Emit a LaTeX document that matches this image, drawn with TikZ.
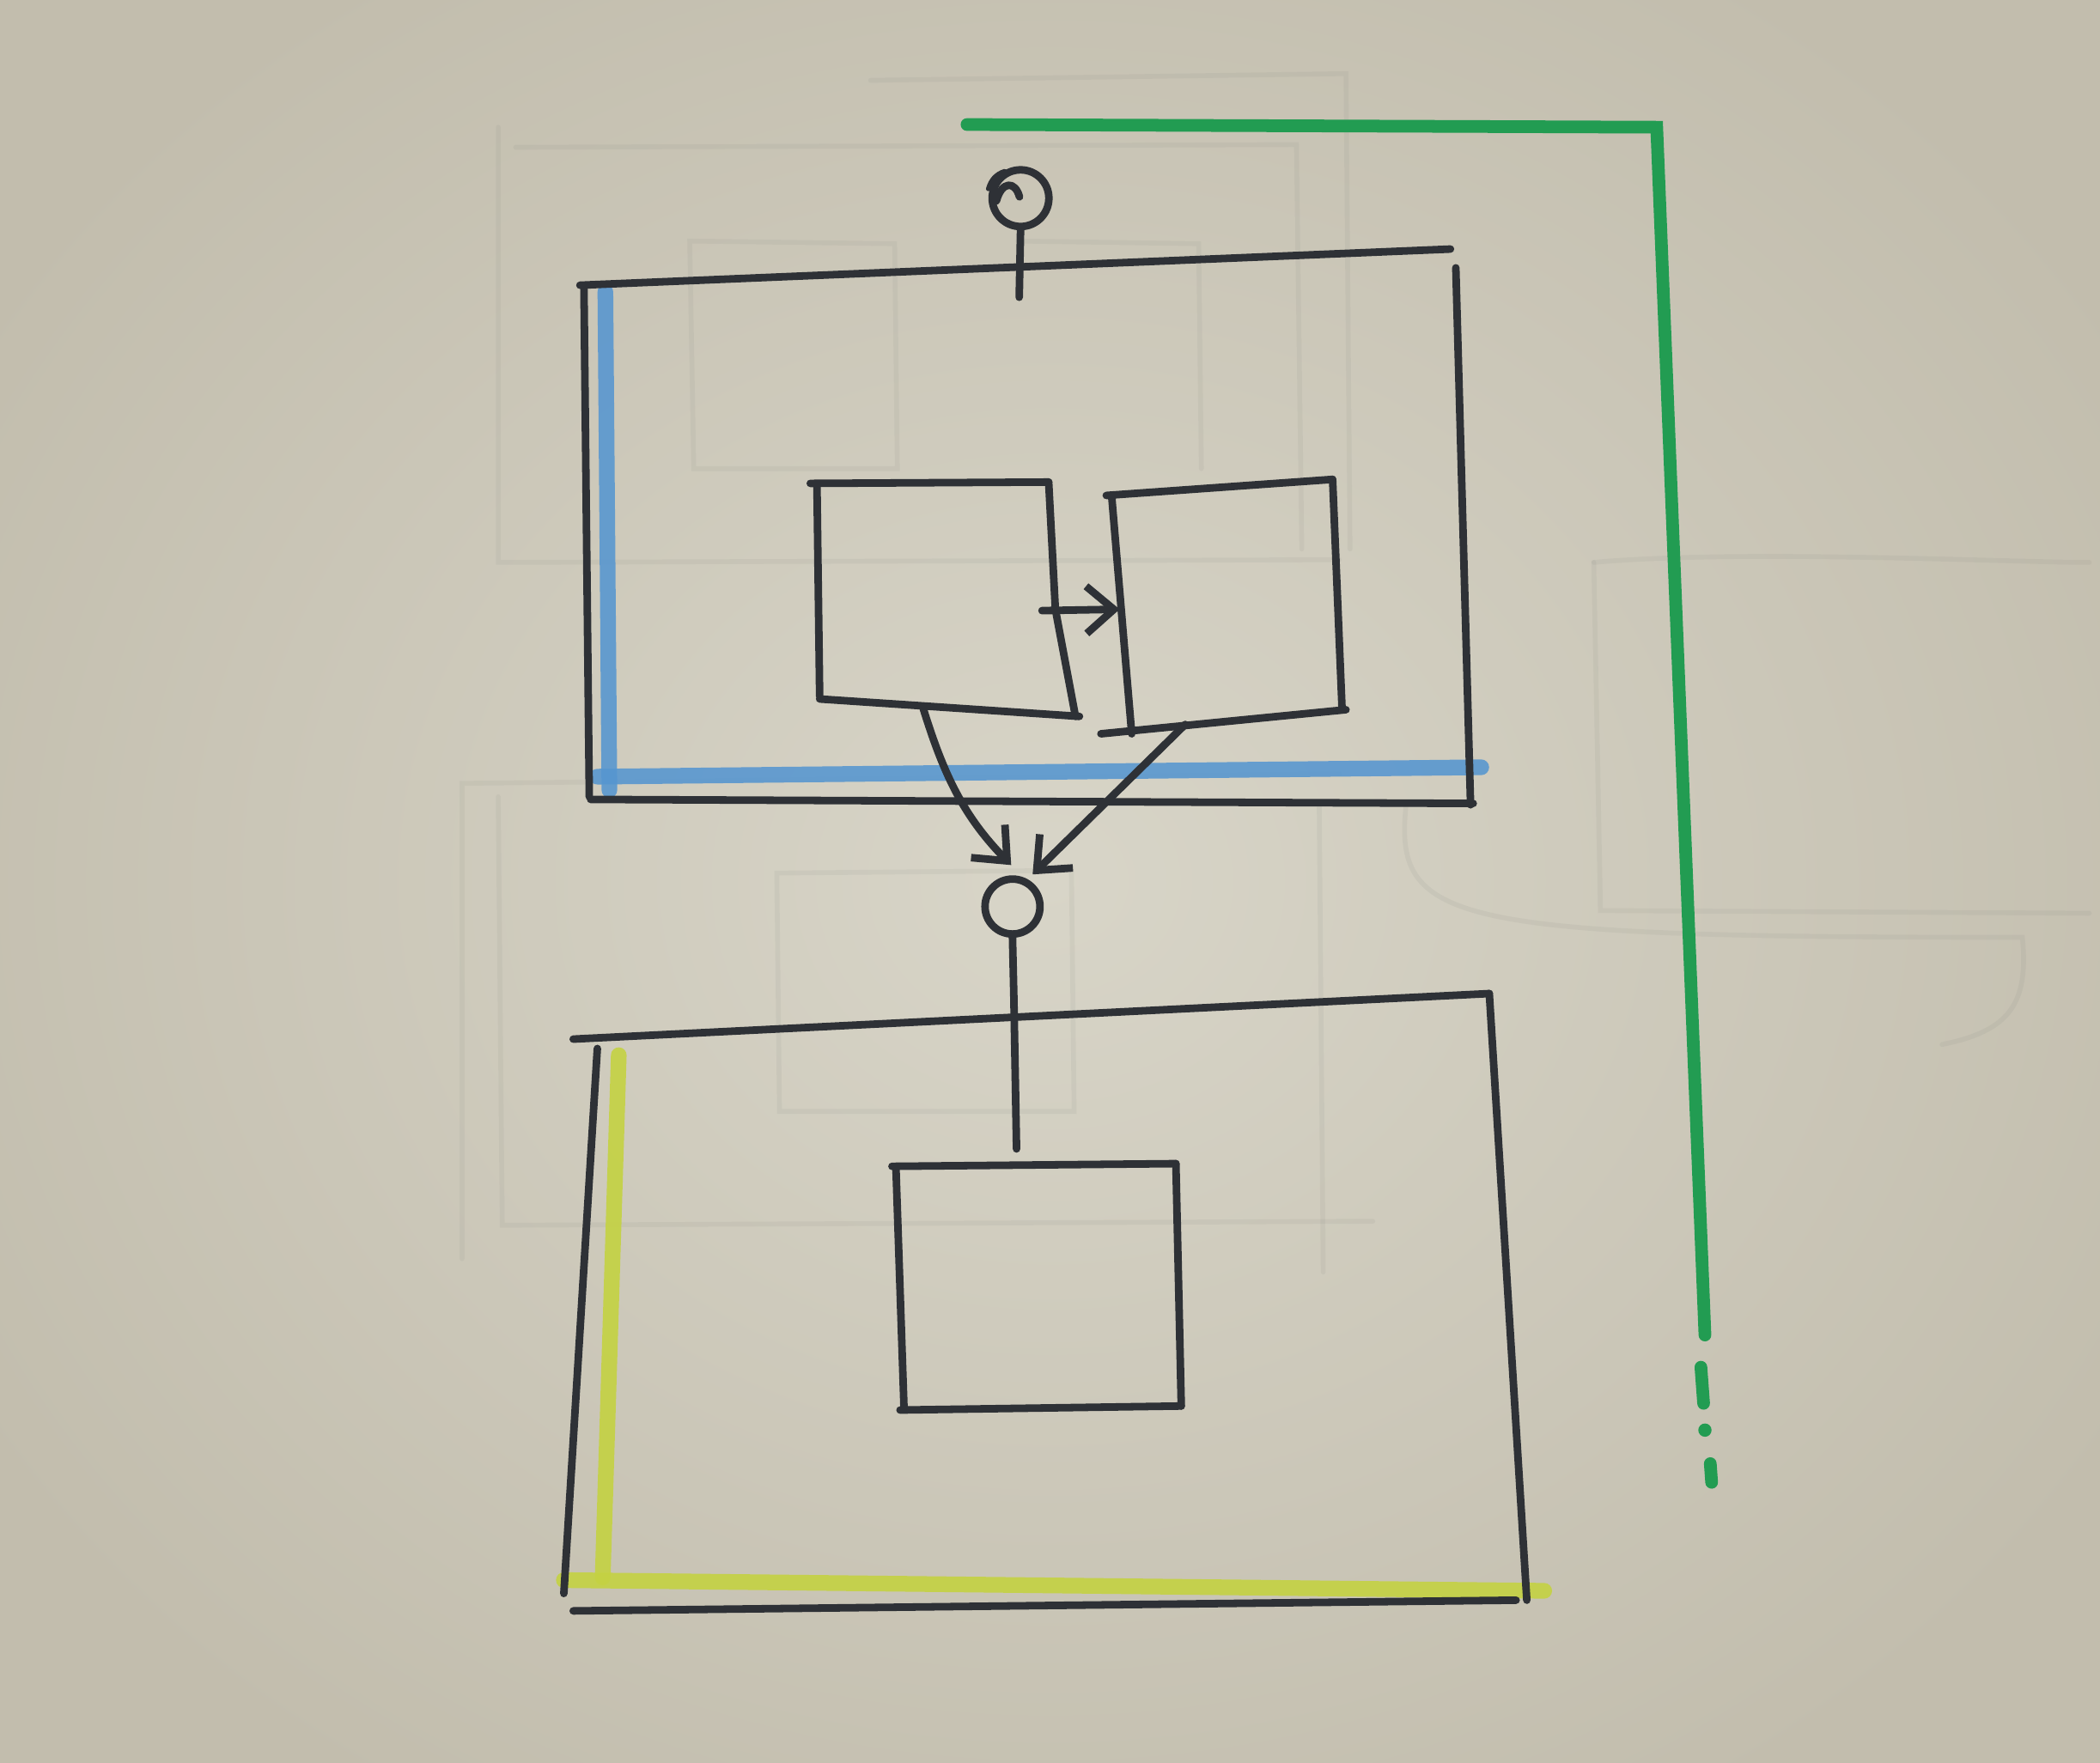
\documentclass[tikz,border=0pt]{standalone}
\usetikzlibrary{arrows.meta}
\definecolor{paperA}{RGB}{216,213,200}
\definecolor{paperB}{RGB}{194,189,173}
\definecolor{ink}{RGB}{46,49,54}
\definecolor{bluemark}{RGB}{86,150,208}
\definecolor{yellowmark}{RGB}{196,210,66}
\definecolor{greenmark}{RGB}{34,156,82}
\definecolor{ghost}{RGB}{120,125,120}
\begin{document}
\begin{tikzpicture}[x=0.015593cm,y=-0.015593cm,
  pen/.style={draw=ink,line width=2.5pt,line cap=round,line join=round},
  bluepen/.style={draw=bluemark,line width=5.2pt,line cap=round,opacity=0.88},
  yellowpen/.style={draw=yellowmark,line width=5.2pt,line cap=round,opacity=0.9},
  greenpen/.style={draw=greenmark,line width=4.2pt,line cap=round},
  ghostpen/.style={draw=ghost,line width=1.6pt,line cap=round,opacity=0.09},
  circ/.style={circle,pen,inner sep=0pt},
  tip/.style={-{Straight Barb[length=3.2mm,width=5.5mm,line width=2.5pt]}}
]
\useasboundingbox (0,0) rectangle (1568,1316);
\begin{scope}
\clip (0,0) rectangle (1568,1316);
\shade[inner color=paperA,outer color=paperB] (-150,-150) rectangle (1718,1466);
\end{scope}

% faint show-through from the back of the sheet
\draw[ghostpen] (372,95) -- (372,420) -- (1000,418);
\draw[ghostpen] (385,110) -- (968,108) -- (972,410);
\draw[ghostpen] (515,180) -- (668,182) -- (670,350) -- (518,350) -- cycle;
\draw[ghostpen] (760,180) -- (895,182) -- (897,350);
\draw[ghostpen] (650,60) -- (1005,55) -- (1008,410);
\draw[ghostpen] (345,940) -- (345,585) -- (1000,578);
\draw[ghostpen] (372,595) -- (375,915) -- (1025,912);
\draw[ghostpen] (580,652) -- (800,650) -- (802,830) -- (582,830) -- cycle;
\draw[ghostpen] (985,600) -- (988,950);
\draw[ghostpen] (1050,600) .. controls (1040,690) and (1080,700) .. (1510,700) .. controls (1515,750) and (1500,770) .. (1450,780);
\draw[ghostpen] (1190,420) -- (1195,680) -- (1560,682);
\draw[ghostpen] (1190,420) .. controls (1300,410) and (1500,420) .. (1560,420);

% green marker line
\coordinate (g0) at (722,93);
\coordinate (g1) at (1237,95);
\coordinate (g2) at (1273,997);
\draw[greenpen] (g0) -- (g1) -- (g2);
\coordinate (g3) at (1270,1021);
\coordinate (g4) at (1272,1048);
\coordinate (g5) at (1273,1068);
\coordinate (g6) at (1277,1093);
\coordinate (g7) at (1278,1107);
\draw[greenpen] (g3) -- (g4);
\fill[greenmark] (g5) circle (2.2pt);
\draw[greenpen] (g6) -- (g7);

% ---------- upper frame ----------
\coordinate (uTL) at (433,213);
\coordinate (uTR) at (1083,186);
\coordinate (uRT) at (1087,200);
\coordinate (uRB) at (1098,601);
\coordinate (uLT) at (436,214);
\coordinate (uLB) at (440,595);
\coordinate (uBL) at (441,597);
\coordinate (uBR) at (1100,600);
\draw[bluepen] (452,218) -- (455,590);
\draw[bluepen] (446,580) -- (1106,573);
\draw[pen] (uTL) -- (uTR);
\draw[pen] (uRT) -- (uRB);
\draw[pen] (uLT) -- (uLB);
\draw[pen] (uBL) -- (uBR);

% top circle and stem
\node[circ,minimum size=0.66cm] (c1) at (762,148) {};
\draw[pen] (761.2,147) .. controls (758,135) and (748,135) .. (744,150);
\draw[pen,line width=1.6pt] (738,141) .. controls (740,134) and (744,130) .. (750,128);
\coordinate (s1) at (761,222);
\draw[pen] (c1.south) -- (s1);

% inner box left
\coordinate (aTL) at (605,361);
\coordinate (aTR) at (783,360);
\coordinate (aBL) at (612,522);
\coordinate (aBR) at (806,535);
\draw[pen] (aTL) -- (aTR);
\draw[pen] (610,363) -- (612,520);
\draw[pen] (aTR) -- (788,455) -- (803,535);
\draw[pen] (aBL) -- (aBR);

% inner box right
\coordinate (bTL) at (826,370);
\coordinate (bTR) at (995,358);
\coordinate (bBL) at (822,548);
\coordinate (bBR) at (1005,530);
\draw[pen] (bTL) -- (bTR);
\draw[pen] (830,370) -- (845,548);
\draw[pen] (bTR) -- (1002,528);
\draw[pen] (bBL) -- (bBR);

% arrow between the inner boxes
\coordinate (h0) at (778,456);
\coordinate (h1) at (836,455);
\draw[pen,tip] (h0) -- (h1);

% middle circle
\node[circ,minimum size=0.64cm] (c2) at (756,677) {};
\coordinate (d0) at (689,528);
\coordinate (d1) at (755,646);
\coordinate (e0) at (885,541);
\coordinate (e1) at (771,653);
\draw[pen,tip] (d0) .. controls (705,580) and (720,610) .. (d1);
\draw[pen,tip] (e0) -- (e1);
\coordinate (s2) at (759,858);
\draw[pen] (c2.south) -- (757,745) -- (s2);

% ---------- lower frame ----------
\coordinate (lTL) at (428,776);
\coordinate (lTR) at (1112,742);
\coordinate (lRB) at (1140,1195);
\coordinate (lLT) at (446,783);
\coordinate (lLB) at (421,1190);
\coordinate (lBL) at (428,1203);
\coordinate (lBR) at (1132,1195);
\draw[yellowpen] (462,788) -- (450,1178);
\draw[yellowpen] (421,1180) -- (1153,1188);
\draw[pen] (lTL) -- (lTR);
\draw[pen] (lTR) -- (lRB);
\draw[pen] (lLT) -- (lLB);
\draw[pen] (lBL) -- (lBR);

% inner box bottom
\coordinate (cTL) at (666,871);
\coordinate (cTR) at (878,869);
\coordinate (cBL) at (672,1053);
\coordinate (cBR) at (882,1050);
\draw[pen] (cTL) -- (cTR);
\draw[pen] (669,873) -- (675,1052);
\draw[pen] (cTR) -- (882,1050);
\draw[pen] (cBL) -- (cBR);
\end{tikzpicture}
\end{document}
